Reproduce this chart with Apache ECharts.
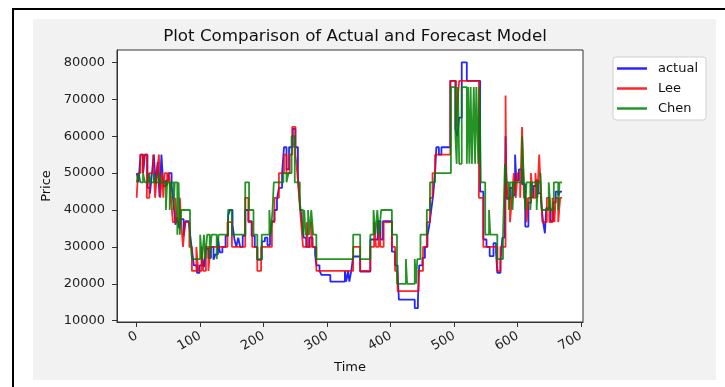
<!DOCTYPE html>
<html>
<head>
<meta charset="utf-8">
<script src="https://cdn.jsdelivr.net/npm/echarts@6/dist/echarts.min.js"></script>
<style>
html,body{margin:0;padding:0;background:#fff;width:725px;height:387px;overflow:hidden;}
#frame{position:absolute;left:12px;top:8px;width:720px;height:390px;border-left:2px solid #000;border-top:2px solid #000;}
#bg{position:absolute;left:33px;top:19px;width:683px;height:361px;background:#f2f2f2;}
#chart{position:absolute;left:0;top:0;width:725px;height:387px;}
</style>
</head>
<body>
<div id="frame"></div>
<div id="bg"></div>
<div id="chart"></div>
<script>
// ---- data (change points: value holds from time t until next t) ----
const xTicks = [0, 100, 200, 300, 400, 500, 600, 700];
const yTicks = [10000, 20000, 30000, 40000, 50000, 60000, 70000, 80000];
const seriesNames = ['actual', 'Lee', 'Chen'];

const actualT = [0,3,6,10,13,17,21,24,27,30,33,36,39,42,46,50,55,58,61,64,67,70,74,77,82,85,88,90,95,99,103,106,109,113,117,121,124,128,131,135,140,144,147,151,154,157,160,163,167,171,176,181,186,190,197,202,206,210,213,217,221,224,229,232,236,240,246,250,254,257,260,263,267,272,277,281,283,288,291,305,328,330,333,335,338,341,352,368,380,384,388,402,407,411,413,438,443,445,450,454,458,461,464,467,470,472,476,480,494,502,505,508,512,520,541,546,551,556,562,566,568,573,576,580,581,583,588,592,596,598,602,607,612,617,621,625,629,633,637,640,643,645,652,656,660,664,667,670];
const actualV = [50000,47500,55000,50000,55000,46000,44500,50000,55000,47000,53000,43500,55000,46500,48000,50000,46500,42000,36000,38000,35000,37500,33000,37000,36500,32000,28000,25000,23000,25000,27000,24500,29500,27000,30000,26500,28000,32500,28500,30000,33000,38500,40000,36000,32000,30000,32500,30000,33000,40000,37000,33000,30000,26500,31500,32500,30500,33000,37000,40000,43000,46000,50000,57000,51000,57000,62000,57000,49000,42000,37000,32500,30000,32500,30000,28000,25000,23500,22400,20600,23500,20600,23500,20600,23500,27400,23300,32000,37000,32000,37000,28700,25000,23000,15700,13400,15700,25000,27000,30000,33000,36000,40000,44000,50000,57000,55000,57000,75000,62000,60000,65000,80000,75000,45000,32000,30000,27500,31000,28500,23000,26000,32500,42000,60000,43000,46000,44000,55000,48000,51000,47000,35500,42000,43500,46500,48000,44500,42500,37000,33700,40500,37000,42000,45000,44000,45000,45000];

const leeT = [0,2,6,10,12,16,20,26,29,32,35,37,40,42,44,48,51,54,57,61,63,68,70,73,76,83,87,94,97,102,105,109,113,116,143,150,171,176,182,190,196,213,217,224,232,236,241,245,250,253,256,259,262,268,270,275,277,283,341,352,368,374,377,381,384,389,402,407,411,444,451,457,462,466,470,494,503,506,508,539,546,568,573,581,582,584,588,591,594,597,600,604,607,610,614,617,621,624,628,631,634,637,639,646,650,655,658,660,664,667,670];
const leeV = [43300,50000,55000,50000,55000,43300,50000,55000,43300,50000,55000,43300,50000,43300,50000,46700,50000,43300,36700,43300,36700,43300,36700,30000,36700,30000,23500,30000,23500,30000,23500,30000,23500,30000,36700,30000,43300,36700,30000,23500,30000,36700,43300,50000,55000,50000,55000,62500,55000,50000,43300,36700,30000,36700,30000,36700,30000,23500,30000,23500,30000,36700,30000,36700,30000,36700,30000,23500,18000,23500,30000,36700,43300,50000,55000,75000,62500,71000,75000,43300,30000,23500,30000,71000,50000,43300,36700,43300,50000,43300,50000,43300,62500,43300,36700,43300,50000,43300,50000,43300,55000,43300,36700,43300,36700,43300,36700,43300,36700,43300,43300];

const chenT = [0,3,6,10,13,19,22,27,30,35,38,46,48,52,54,58,60,64,66,68,70,84,87,100,103,106,108,111,115,118,126,129,144,150,171,177,184,190,197,209,211,214,216,231,236,239,244,249,257,262,264,266,270,272,275,278,283,341,352,368,373,376,379,382,385,402,410,424,426,438,440,442,447,457,462,470,495,502,504,506,508,512,520,522,524,526,528,531,533,535,538,540,542,549,555,557,568,577,580,582,586,588,592,594,607,610,612,614,620,623,630,632,636,638,649,652,657,664,666,670];
const chenV = [47500,50000,47500,50000,47500,50000,47500,50000,47500,50000,47500,40000,47500,40000,47500,40000,47500,33300,47500,33300,40000,33300,26700,33300,26700,33300,26700,33300,26700,33300,26700,33300,40000,33300,47500,40000,33300,26700,33300,40000,33300,40000,47500,50000,47500,50000,60000,47500,40000,33300,40000,33300,40000,33300,40000,33300,26700,33300,26700,33300,40000,33300,40000,33300,40000,33300,20000,26700,20000,26700,20000,26700,33300,40000,47500,50000,73300,60000,52500,73300,52500,73300,52500,73300,52500,73300,52500,73300,52500,73300,52500,73300,47500,33300,40000,33300,26700,33300,52500,47500,40000,47500,40000,47500,60000,47500,40000,47500,40000,47500,40000,47500,50000,40000,47500,40000,47500,40000,47500,47500];

const colors = ['rgba(0,0,255,0.85)', 'rgba(255,0,0,0.85)', 'rgba(0,128,0,0.85)'];

function pairs(ts, vs) { return ts.map((t, i) => [t, vs[i]]); }
const seriesData = [pairs(actualT, actualV), pairs(leeT, leeV), pairs(chenT, chenV)];

const FONT = 'DejaVu Sans';
const chart = echarts.init(document.getElementById('chart'), null, {renderer: 'canvas'});
chart.setOption({
  animation: false,
  textStyle: {fontFamily: FONT},
  title: {
    text: 'Plot Comparison of Actual and Forecast Model',
    left: 350, top: 23, textAlign: 'center',
    textStyle: {fontFamily: FONT, fontSize: 16.7, fontWeight: 'normal', color: '#111'}
  },
  legend: {
    data: seriesNames,
    orient: 'vertical',
    left: 613, top: 57,
    icon: 'rect', itemWidth: 30, itemHeight: 2.5, itemGap: 7,
    padding: [5, 8, 5, 4],
    backgroundColor: '#fff', borderColor: '#d0d0d0', borderWidth: 1, borderRadius: 3,
    textStyle: {fontFamily: FONT, fontSize: 13, color: '#111', padding: [0, 0, 0, 6]}
  },
  grid: {
    left: 117, right: 142, top: 50, bottom: 65,
    show: true, backgroundColor: '#fff', borderColor: '#333', borderWidth: 1
  },
  xAxis: {
    type: 'value', min: -31, max: 703,
    name: 'Time', nameLocation: 'middle', nameGap: 39,
    nameTextStyle: {fontFamily: FONT, fontSize: 13, color: '#111'},
    axisLine: {show: true, onZero: false, lineStyle: {color: '#333'}},
    axisTick: {show: true, length: 5, lineStyle: {color: '#333'}, customValues: xTicks},
    axisLabel: {customValues: xTicks, rotate: 30, margin: 13, fontFamily: FONT, fontSize: 13, color: '#222',
      formatter: v => String(v)},
    splitLine: {show: false}
  },
  yAxis: {
    type: 'value', min: 9650, max: 83350,
    name: 'Price', nameLocation: 'middle', nameGap: 62,
    nameTextStyle: {fontFamily: FONT, fontSize: 13, color: '#111'},
    axisLine: {show: true, onZero: false, lineStyle: {color: '#333'}},
    axisTick: {show: true, length: 5, lineStyle: {color: '#333'}, customValues: yTicks},
    axisLabel: {customValues: yTicks, margin: 12, fontFamily: FONT, fontSize: 13, color: '#222',
      formatter: v => String(v)},
    splitLine: {show: false}
  },
  series: seriesNames.map((name, i) => ({
    name: name,
    type: 'line',
    step: 'end',
    data: seriesData[i],
    showSymbol: false,
    symbol: 'none',
    color: colors[i],
    lineStyle: {color: colors[i], width: 1.8},
    itemStyle: {color: colors[i]}
  }))
});
</script>
</body>
</html>
